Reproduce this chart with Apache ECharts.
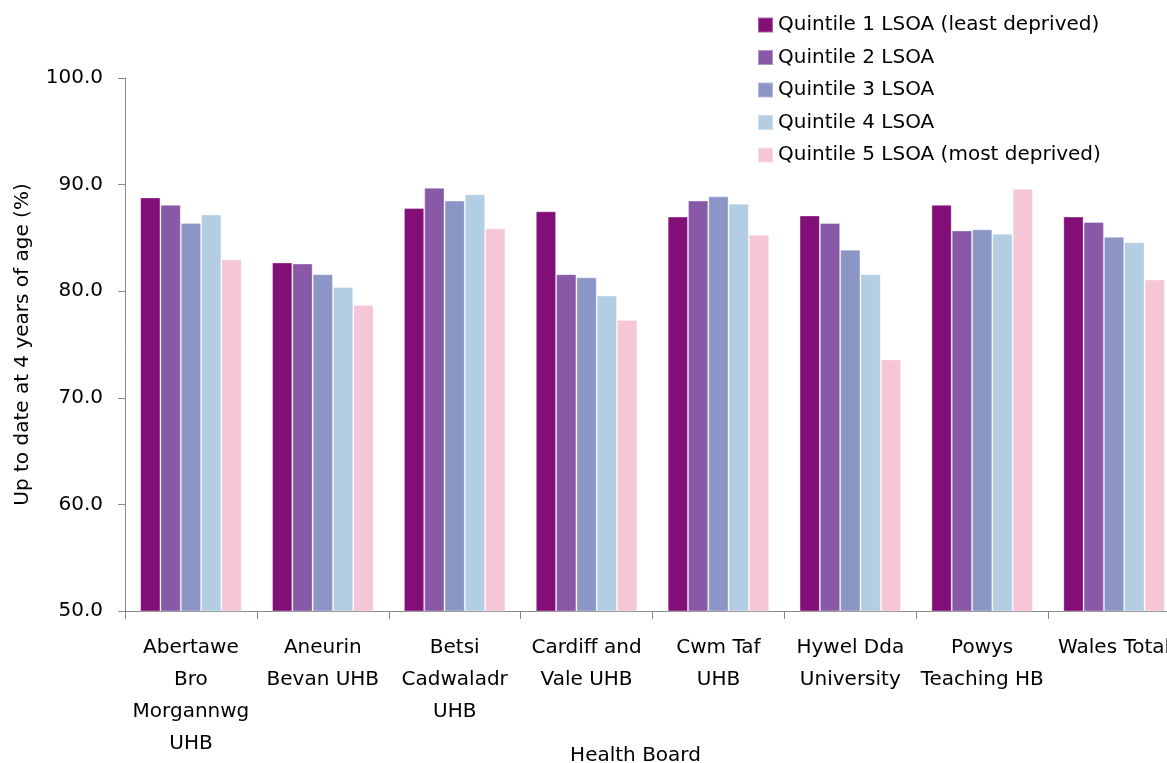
<!DOCTYPE html>
<html>
<head>
<meta charset="utf-8">
<script src="https://cdn.jsdelivr.net/npm/echarts@6/dist/echarts.min.js"></script>
<style>
html,body{margin:0;padding:0;background:#fff;}
#main{width:1167px;height:763px;}
</style>
</head>
<body>
<div id="main"></div>
<script>
const categories = [
  "Abertawe\nBro\nMorgannwg\nUHB",
  "Aneurin\nBevan UHB",
  "Betsi\nCadwaladr\nUHB",
  "Cardiff and\nVale UHB",
  "Cwm Taf\nUHB",
  "Hywel Dda\nUniversity",
  "Powys\nTeaching HB",
  "Wales Total"
];
const seriesNames = [
  "Quintile 1 LSOA (least deprived)",
  "Quintile 2 LSOA",
  "Quintile 3 LSOA",
  "Quintile 4 LSOA",
  "Quintile 5 LSOA (most deprived)"
];
const q1 = [88.8, 82.7, 87.8, 87.5, 87.0, 87.1, 88.1, 87.0];
const q2 = [88.1, 82.6, 89.7, 81.6, 88.5, 86.4, 85.7, 86.5];
const q3 = [86.4, 81.6, 88.5, 81.3, 88.9, 83.9, 85.8, 85.1];
const q4 = [87.2, 80.4, 89.1, 79.6, 88.2, 81.6, 85.4, 84.6];
const q5 = [83.0, 78.7, 85.9, 77.3, 85.3, 73.6, 89.6, 81.1];
const yTicks = [50, 60, 70, 80, 90, 100];

const colors = ["#820e78", "#8859a6", "#8c96c6", "#b3cde3", "#f6c6d7"];
const values = [q1, q2, q3, q4, q5];
const FONT = "DejaVu Sans";
const FS = 20;

const chart = echarts.init(document.getElementById('main'));
chart.setOption({
  animation: false,
  textStyle: { fontFamily: FONT },
  legend: {
    orient: 'vertical',
    left: 752,
    top: 10,
    itemWidth: 15,
    itemHeight: 15,
    itemGap: 12.5,
    icon: 'rect',
    textStyle: { fontFamily: FONT, fontSize: FS, color: '#000' },
    data: seriesNames
  },
  grid: { left: 125, top: 78, width: 1055, height: 533, outerBoundsMode: 'none', containLabel: false },
  xAxis: {
    type: 'category',
    data: categories,
    name: 'Health Board',
    nameLocation: 'middle',
    nameGap: 135,
    nameMoveOverlap: false,
    nameTextStyle: { fontFamily: FONT, fontSize: FS, color: '#000', padding: [0, 34, 0, 0] },
    axisLine: { lineStyle: { color: '#888', width: 1 } },
    axisTick: { show: true, length: 8, alignWithLabel: false, lineStyle: { color: '#888' } },
    axisLabel: { fontFamily: FONT, fontSize: FS, color: '#000', lineHeight: 32, margin: 21, interval: 0 },
    splitLine: { show: false }
  },
  yAxis: {
    type: 'value',
    min: 50,
    max: 100,
    interval: 10,
    name: 'Up to date at 4 years of age (%)',
    nameLocation: 'middle',
    nameGap: 92,
    nameRotate: 90,
    nameMoveOverlap: false,
    nameTextStyle: { fontFamily: FONT, fontSize: FS, color: '#000' },
    axisLine: { show: true, lineStyle: { color: '#888', width: 1 } },
    axisTick: { show: true, length: 7, inside: false, lineStyle: { color: '#888' } },
    axisLabel: {
      fontFamily: FONT, fontSize: FS, color: '#000', margin: 22,
      formatter: v => yTicks.includes(v) ? v.toFixed(1) : ''
    },
    splitLine: { show: false }
  },
  series: values.map((vals, i) => ({
    name: seriesNames[i],
    type: 'bar',
    data: vals,
    barGap: '0%',
    barCategoryGap: '23%',
    itemStyle: { color: colors[i], borderColor: 'rgba(255,255,255,0.35)', borderWidth: 1 }
  }))
});
</script>
</body>
</html>
